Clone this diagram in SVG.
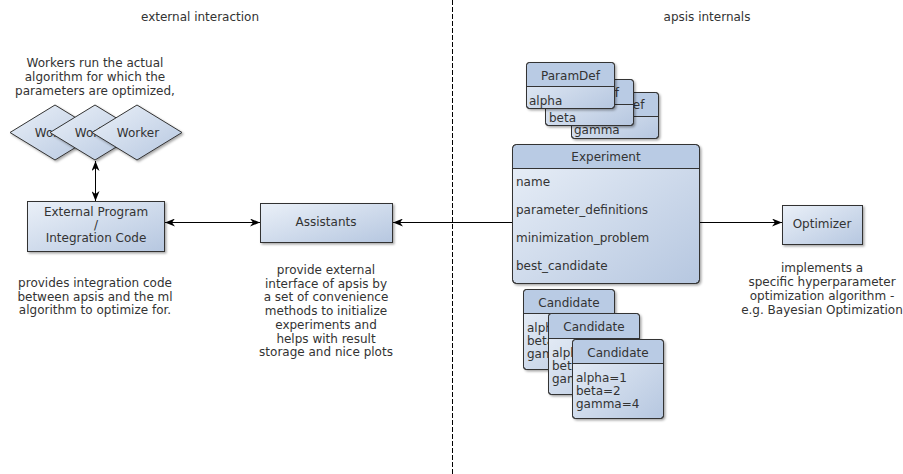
<svg xmlns="http://www.w3.org/2000/svg" width="903" height="474" viewBox="0 0 903 474">
<style>
text{font-family:"DejaVu Sans","Liberation Sans",sans-serif;font-size:12px;fill:#333}
.c{text-anchor:middle}
.box{fill:url(#g);stroke:#333;stroke-width:1}
.hdr{fill:#b9cbe4;stroke:none}
.ln{stroke:#333;stroke-width:1}
.conn{stroke:#000;stroke-width:1;fill:none}
</style>
<defs>
<linearGradient id="g" x1="0" y1="0" x2="1" y2="1">
<stop offset="0" stop-color="#eaf0f8"/>
<stop offset="1" stop-color="#b6c7e0"/>
</linearGradient>
<filter id="sh" x="-10%" y="-10%" width="130%" height="130%">
<feDropShadow dx="1.5" dy="1.5" stdDeviation="1" flood-color="#000" flood-opacity="0.35"/>
</filter>
<marker id="ah" viewBox="0 0 10 8" refX="10" refY="4" markerWidth="10" markerHeight="8" orient="auto-start-reverse" markerUnits="userSpaceOnUse">
<path d="M0,0 L10,4 L0,8 L3,4 z" fill="#000"/>
</marker>
</defs>
<rect width="903" height="474" fill="#fff"/>
<line x1="452.5" y1="0" x2="452.5" y2="474" stroke="#000" stroke-width="1" stroke-dasharray="5,2"/>
<text class="c" x="200" y="21">external interaction</text>
<text class="c" x="707" y="21">apsis internals</text>

<g id="workers">
<text class="c" x="95" y="67">Workers run the actual</text>
<text class="c" x="95" y="81">algorithm for which the</text>
<text class="c" x="95" y="95">parameters are optimized,</text>
<g filter="url(#sh)">
<polygon class="box" points="10,132.5 55,105 100,132.5 55,160"/>
</g>
<text class="c" x="56" y="137">Worker</text>
<g filter="url(#sh)">
<polygon class="box" points="50,132.5 95,105 140,132.5 95,160"/>
</g>
<text class="c" x="96" y="137">Worker</text>
<g filter="url(#sh)">
<polygon class="box" points="92,132.5 137,105 182,132.5 137,160"/>
</g>
<text class="c" x="138" y="137">Worker</text>
</g>

<g id="external">
<rect class="box" filter="url(#sh)" x="27.5" y="201.5" width="137" height="50"/>
<text class="c" x="96" y="216">External Program</text>
<text class="c" x="96" y="229">/</text>
<text class="c" x="96" y="242">Integration Code</text>
<text class="c" x="95" y="287">provides integration code</text>
<text class="c" x="95" y="300.5">between apsis and the ml</text>
<text class="c" x="95" y="314">algorithm to optimize for.</text>
</g>

<g id="assistants">
<rect class="box" filter="url(#sh)" x="260.5" y="203.5" width="132" height="39"/>
<text class="c" x="326" y="226">Assistants</text>
<text class="c" x="326" y="274">provide external</text>
<text class="c" x="326" y="287.7">interface of apsis by</text>
<text class="c" x="326" y="301.4">a set of convenience</text>
<text class="c" x="326" y="315.1">methods to initialize</text>
<text class="c" x="326" y="328.8">experiments and</text>
<text class="c" x="326" y="342.5">helps with result</text>
<text class="c" x="326" y="356.2">storage and nice plots</text>
</g>

<g id="paramdef3">
<rect class="box" filter="url(#sh)" x="571.5" y="92.5" width="87" height="46" rx="3"/>
<path class="hdr" d="M574.5,93 h81 a2.5,2.5 0 0 1 2.5,2.5 V116 h-86 V95.5 a2.5,2.5 0 0 1 2.5,-2.5z"/>
<rect x="571.5" y="92.5" width="87" height="46" rx="3" fill="none" stroke="#333"/>
<line class="ln" x1="571.5" y1="116.5" x2="658.5" y2="116.5"/>
<text class="c" x="615" y="109">ParamDef</text>
<text x="574" y="134">gamma</text>
</g>
<g id="paramdef2">
<rect class="box" filter="url(#sh)" x="545.5" y="79.5" width="88" height="46" rx="3"/>
<path class="hdr" d="M548.5,80 h82 a2.5,2.5 0 0 1 2.5,2.5 V104 h-87 V82.5 a2.5,2.5 0 0 1 2.5,-2.5z"/>
<rect x="545.5" y="79.5" width="88" height="46" rx="3" fill="none" stroke="#333"/>
<line class="ln" x1="545.5" y1="104.5" x2="633.5" y2="104.5"/>
<text class="c" x="589.5" y="97">ParamDef</text>
<text x="549" y="122">beta</text>
</g>
<g id="paramdef1">
<rect class="box" filter="url(#sh)" x="526.5" y="62.5" width="88" height="46" rx="3"/>
<path class="hdr" d="M529.5,63 h82 a2.5,2.5 0 0 1 2.5,2.5 V86 h-87 V65.5 a2.5,2.5 0 0 1 2.5,-2.5z"/>
<rect x="526.5" y="62.5" width="88" height="46" rx="3" fill="none" stroke="#333"/>
<line class="ln" x1="526.5" y1="86.5" x2="614.5" y2="86.5"/>
<text class="c" x="570.5" y="80">ParamDef</text>
<text x="529" y="105">alpha</text>
</g>

<g id="experiment">
<rect class="box" filter="url(#sh)" x="512.5" y="144.5" width="187" height="139" rx="4"/>
<path class="hdr" d="M516.5,145 h179 a3.5,3.5 0 0 1 3.5,3.5 V168 h-186 V148.5 a3.5,3.5 0 0 1 3.5,-3.5z"/>
<rect x="512.5" y="144.5" width="187" height="139" rx="4" fill="none" stroke="#333"/>
<line class="ln" x1="512.5" y1="168.5" x2="699.5" y2="168.5"/>
<text class="c" x="606" y="161">Experiment</text>
<text x="516" y="186">name</text>
<text x="516" y="214">parameter_definitions</text>
<text x="516" y="242">minimization_problem</text>
<text x="516" y="270">best_candidate</text>
</g>

<g id="candidate1">
<rect class="box" filter="url(#sh)" x="523.5" y="289.5" width="91" height="80" rx="3"/>
<path class="hdr" d="M526.5,290 h85 a2.5,2.5 0 0 1 2.5,2.5 V313 h-90 V292.5 a2.5,2.5 0 0 1 2.5,-2.5z"/>
<rect x="523.5" y="289.5" width="91" height="80" rx="3" fill="none" stroke="#333"/>
<line class="ln" x1="523.5" y1="313.5" x2="614.5" y2="313.5"/>
<text class="c" x="569" y="307">Candidate</text>
<text x="527" y="332">alpha=1</text>
<text x="527" y="345">beta=2</text>
<text x="527" y="358">gamma=4</text>
</g>
<g id="candidate2">
<rect class="box" filter="url(#sh)" x="548.5" y="313.5" width="91" height="81" rx="3"/>
<path class="hdr" d="M551.5,314 h85 a2.5,2.5 0 0 1 2.5,2.5 V338 h-90 V316.5 a2.5,2.5 0 0 1 2.5,-2.5z"/>
<rect x="548.5" y="313.5" width="91" height="81" rx="3" fill="none" stroke="#333"/>
<line class="ln" x1="548.5" y1="338.5" x2="639.5" y2="338.5"/>
<text class="c" x="594" y="331">Candidate</text>
<text x="552" y="357">alpha=1</text>
<text x="552" y="370">beta=2</text>
<text x="552" y="383">gamma=4</text>
</g>
<g id="candidate3">
<rect class="box" filter="url(#sh)" x="572.5" y="339.5" width="91" height="79" rx="3"/>
<path class="hdr" d="M575.5,340 h85 a2.5,2.5 0 0 1 2.5,2.5 V363 h-90 V342.5 a2.5,2.5 0 0 1 2.5,-2.5z"/>
<rect x="572.5" y="339.5" width="91" height="79" rx="3" fill="none" stroke="#333"/>
<line class="ln" x1="572.5" y1="363.5" x2="663.5" y2="363.5"/>
<text class="c" x="618" y="357">Candidate</text>
<text x="576" y="382">alpha=1</text>
<text x="576" y="395">beta=2</text>
<text x="576" y="408">gamma=4</text>
</g>

<g id="optimizer">
<rect class="box" filter="url(#sh)" x="782.5" y="205.5" width="80" height="39"/>
<text class="c" x="822" y="228">Optimizer</text>
<text class="c" x="822" y="272">implements a</text>
<text class="c" x="822" y="286">specific hyperparameter</text>
<text class="c" x="822" y="300">optimization algorithm -</text>
<text class="c" x="822" y="314">e.g. Bayesian Optimization</text>
</g>

<g id="connectors">
<line class="conn" x1="95.5" y1="161" x2="95.5" y2="201" marker-start="url(#ah)" marker-end="url(#ah)"/>
<line class="conn" x1="165" y1="222.5" x2="260" y2="222.5" marker-start="url(#ah)" marker-end="url(#ah)"/>
<line class="conn" x1="512" y1="222.5" x2="393" y2="222.5" marker-end="url(#ah)"/>
<line class="conn" x1="700" y1="222.5" x2="782" y2="222.5" marker-end="url(#ah)"/>
</g>
</svg>
